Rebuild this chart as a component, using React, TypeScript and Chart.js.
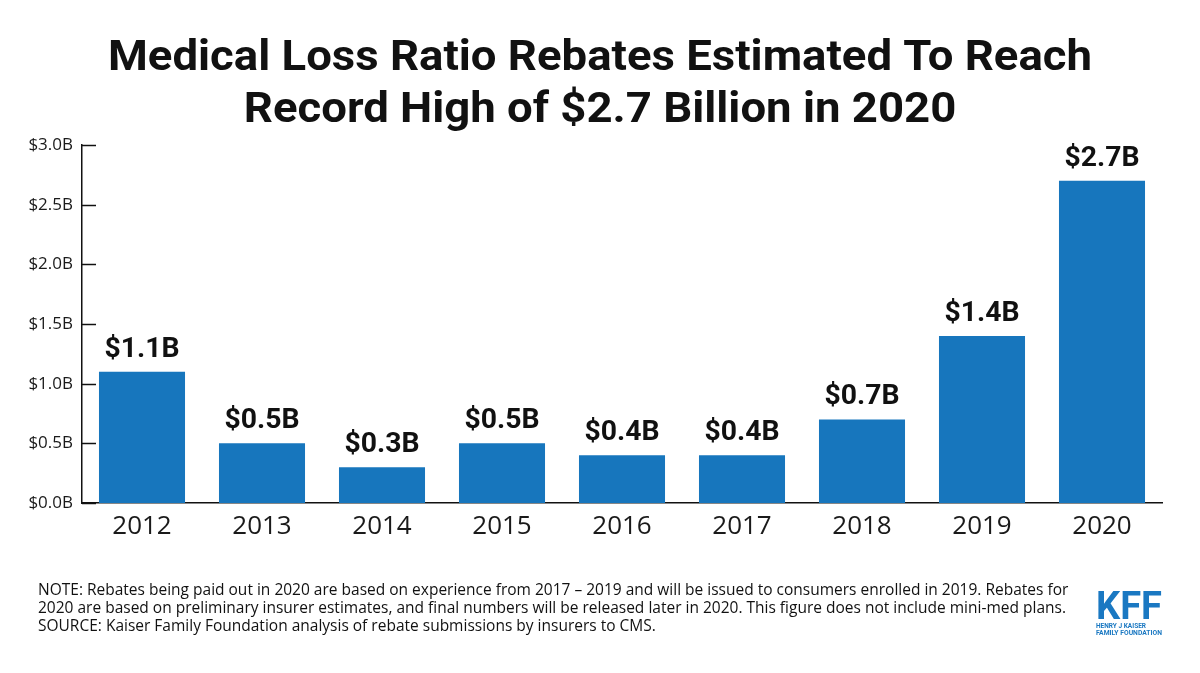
import React, { useEffect, useRef } from "react";
import { Chart, registerables } from "chart.js";

Chart.register(...registerables);

// Rebate years and totals, in billions of dollars
const years = ["2012", "2013", "2014", "2015", "2016", "2017", "2018", "2019", "2020"];
const rebates = [1.1, 0.5, 0.3, 0.5, 0.4, 0.4, 0.7, 1.4, 2.7];
const valueLabels = ["$1.1B", "$0.5B", "$0.3B", "$0.5B", "$0.4B", "$0.4B", "$0.7B", "$1.4B", "$2.7B"];
const yTicks = [0, 0.5, 1.0, 1.5, 2.0, 2.5, 3.0];

const titleLines = [
  "Medical Loss Ratio Rebates Estimated To Reach",
  "Record High of $2.7 Billion in 2020",
];
const noteLines = [
  "NOTE: Rebates being paid out in 2020 are based on experience from 2017 \u2013 2019 and will be issued to consumers enrolled in 2019. Rebates for",
  "2020 are based on preliminary insurer estimates, and final numbers will be released later in 2020. This figure does not include mini-med plans.",
  "SOURCE: Kaiser Family Foundation analysis of rebate submissions by insurers to CMS.",
];

const BAR_BLUE = "#1776bd";
const LOGO_BLUE = "#1a78c2";
const TITLE_WIDTH = 984;

// Title, value labels, inward y tick marks, footnote and logo
const decorations = {
  id: "decorations",
  afterDraw(chart: any) {
    const ctx = chart.ctx as CanvasRenderingContext2D;
    ctx.save();

    // Title, widened slightly to the heading's set width
    ctx.fillStyle = "#111";
    ctx.textAlign = "center";
    ctx.textBaseline = "alphabetic";
    ctx.font = "bold 43px Roboto";
    const sx = TITLE_WIDTH / ctx.measureText(titleLines[0]).width;
    [70, 122].forEach((by, i) => {
      ctx.save();
      ctx.translate(600, by);
      ctx.scale(sx, 1);
      ctx.fillText(titleLines[i], 0, 0);
      ctx.restore();
    });

    // Value labels above bars
    const meta = chart.getDatasetMeta(0);
    ctx.font = "bold 27px Roboto";
    ctx.fillStyle = "#111";
    meta.data.forEach((bar: any, i: number) => {
      ctx.save();
      ctx.translate(bar.x, bar.y - 15);
      ctx.scale(1.05, 1);
      ctx.fillText(valueLabels[i], 0, 0);
      ctx.restore();
    });

    // Tick marks on the y axis, pointing into the plot
    const y = chart.scales.y;
    const x0 = chart.chartArea.left;
    ctx.strokeStyle = "#111";
    ctx.lineWidth = 1.5;
    y.ticks.forEach((t: any) => {
      const py = Math.round(y.getPixelForValue(t.value)) + 0.5;
      ctx.beginPath();
      ctx.moveTo(x0, py);
      ctx.lineTo(x0 + 14, py);
      ctx.stroke();
    });

    // Footnote
    ctx.textAlign = "left";
    ctx.fillStyle = "#111";
    ctx.font = "15.5px 'Open Sans'";
    noteLines.forEach((line, i) => {
      ctx.fillText(line, 38, 595 + i * 18);
    });

    // Logo
    ctx.fillStyle = LOGO_BLUE;
    ctx.textAlign = "left";
    ctx.font = "bold 38px Roboto";
    const kw = ctx.measureText("KFF").width;
    ctx.save();
    ctx.translate(1096, 619);
    ctx.scale(66 / kw, 1);
    ctx.fillText("KFF", 0, 0);
    ctx.restore();
    ctx.font = "bold 6.5px Roboto";
    ctx.fillText("HENRY J KAISER", 1096, 627.5);
    const w2 = ctx.measureText("FAMILY FOUNDATION").width;
    ctx.save();
    ctx.translate(1096, 634.5);
    ctx.scale(66 / w2, 1);
    ctx.fillText("FAMILY FOUNDATION", 0, 0);
    ctx.restore();

    ctx.restore();
  },
};

export default function App() {
  const ref = useRef<HTMLCanvasElement>(null);

  useEffect(() => {
    if (!ref.current) return;
    const chart = new Chart(ref.current, {
      type: "bar",
      data: {
        labels: years,
        datasets: [
          {
            data: rebates,
            backgroundColor: BAR_BLUE,
            borderWidth: 0,
            barPercentage: 0.717,
            categoryPercentage: 1,
          },
        ],
      },
      options: {
        animation: false,
        responsive: false,
        maintainAspectRatio: false,
        layout: { padding: { top: 145, left: 0, right: 38, bottom: 120 } },
        plugins: {
          legend: { display: false },
          title: { display: false },
          tooltip: { enabled: false },
        },
        scales: {
          x: {
            grid: { display: false, drawTicks: false },
            border: { display: true, color: "#111", width: 1.5 },
            ticks: {
              color: "#1a1a1a",
              font: { family: "'Open Sans'", size: 26 },
              padding: 8,
              maxRotation: 0,
            },
            afterFit(scale: any) {
              scale.height = 50;
            },
          },
          y: {
            min: 0,
            max: 3,
            afterBuildTicks(scale: any) {
              scale.ticks = yTicks.map((v) => ({ value: v }));
            },
            grid: { display: false, drawTicks: false },
            border: { display: true, color: "#111", width: 1.5 },
            ticks: {
              color: "#1a1a1a",
              font: { family: "'Open Sans'", size: 17 },
              padding: 9,
              callback: (v: any) => "$" + Number(v).toFixed(1) + "B",
            },
            afterFit(scale: any) {
              scale.width = 82;
            },
          },
        },
      },
      plugins: [decorations],
    });
    return () => chart.destroy();
  }, []);

  return (
    <div style={{ position: "fixed", left: 0, top: 0, width: 1200, height: 673, background: "#fff" }}>
      <canvas ref={ref} width={1200} height={673} style={{ display: "block" }} />
    </div>
  );
}
